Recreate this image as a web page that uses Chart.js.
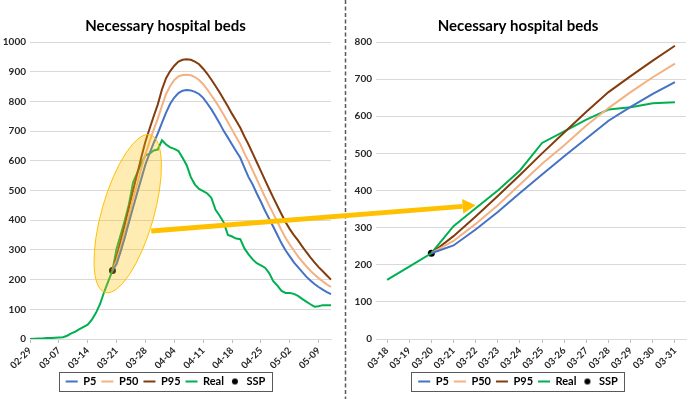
<!DOCTYPE html>
<html>
<head>
<meta charset="utf-8">
<script src="https://cdn.jsdelivr.net/npm/chart.js@4.4.1/dist/chart.umd.min.js"></script>
<style>
    body { margin: 0; background: #fff; }
    #wrap { position: relative; width: 690px; height: 399px; }
    .box { position: absolute; top: 0; height: 399px; }
    #leftBox { left: 0; width: 345px; }
    #rightBox { left: 346px; width: 344px; }
    #overlay { position: absolute; left: 0; top: 0; pointer-events: none; }
</style>
</head>
<body>
<div id="wrap">
    <div class="box" id="leftBox"><canvas id="LeftChart"></canvas></div>
    <div class="box" id="rightBox"><canvas id="RightChart"></canvas></div>
    <canvas id="overlay" width="690" height="399"></canvas>
</div>
<script>
// days 02-29 .. 05-12
const days = [
    "02-29",
    "03-01", "03-02", "03-03", "03-04", "03-05", "03-06", "03-07", "03-08", "03-09", "03-10",
    "03-11", "03-12", "03-13", "03-14", "03-15", "03-16", "03-17", "03-18", "03-19", "03-20",
    "03-21", "03-22", "03-23", "03-24", "03-25", "03-26", "03-27", "03-28", "03-29", "03-30", "03-31",
    "04-01", "04-02", "04-03", "04-04", "04-05", "04-06", "04-07", "04-08", "04-09", "04-10",
    "04-11", "04-12", "04-13", "04-14", "04-15", "04-16", "04-17", "04-18", "04-19", "04-20",
    "04-21", "04-22", "04-23", "04-24", "04-25", "04-26", "04-27", "04-28", "04-29", "04-30",
    "05-01", "05-02", "05-03", "05-04", "05-05", "05-06", "05-07", "05-08", "05-09", "05-10",
    "05-11", "05-12"
];

const real = [
    0, 1, 2, 2, 3, 3, 4, 5, 6, 11,
    19, 25, 33, 41, 48, 65, 88, 118, 159, 195,
    231, 304, 352, 400, 454, 528, 559, 591, 618, 624,
    635, 638, 669, 655, 645, 640, 633, 610, 585, 545,
    520, 505, 498, 490, 475, 435, 415, 392, 350, 345,
    338, 336, 305, 285, 268, 255, 248, 240, 222, 195,
    180, 162, 155, 155, 152, 145, 135, 126, 117, 109,
    110, 114, 114, 114
];

// projections start at the SSP day (03-20)
const p5From = [
    231, 252, 295, 342, 393, 443, 492, 540, 588, 625,
    660, 692, 728, 762, 792, 813, 828, 836, 838, 837,
    832, 825, 812, 793, 773, 750, 726, 700, 678, 655,
    632, 610, 577, 545, 520, 490, 462, 432, 405, 378,
    350, 322, 298, 278, 258, 242, 226, 210, 197, 185,
    175, 166, 158, 151
];
const p50From = [
    231, 264, 310, 360, 416, 472, 522, 575, 622, 665,
    705, 742, 785, 825, 852, 872, 884, 889, 890, 888,
    882, 872, 858, 840, 820, 800, 778, 754, 730, 705,
    680, 656, 625, 598, 568, 538, 508, 478, 450, 422,
    394, 366, 340, 318, 298, 278, 261, 245, 230, 217,
    205, 194, 184, 175
];
const p95From = [
    231, 277, 330, 385, 442, 500, 556, 612, 665, 708,
    750, 790, 840, 878, 902, 920, 934, 940, 942, 940,
    934, 925, 910, 893, 873, 852, 830, 806, 783, 758,
    735, 711, 682, 655, 625, 595, 565, 535, 505, 476,
    448, 420, 393, 370, 350, 332, 312, 293, 275, 258,
    242, 228, 214, 200
];

const sspDay = "03-20";
const sspValue = 231;

const zoomFrom = "03-18";
const zoomTo = "03-31";

const leftTicks = [0, 1000, 100];
const rightTicks = [0, 800, 100];

const titleText = "Necessary hospital beds";

// ellipse + arrow annotations, in data units
const ellipseAt = { index: 23.7, value: 422 };
const arrowFrom = { index: 29.4, value: 364 };
const arrowTo = { index: 4.0, value: 360 };

const colors = {
    p5: "#4472C4",
    p50: "#F4B183",
    p95: "#843C0C",
    real: "#00B050",
    ssp: "#000000",
};

Chart.defaults.font.family = "Lato";
Chart.defaults.color = "#262626";

const lead = days.indexOf(sspDay);
function pad(arr) {
    return new Array(lead).fill(null).concat(arr);
}
const p5 = pad(p5From);
const p50 = pad(p50From);
const p95 = pad(p95From);
const ssp = days.map(d => (d === sspDay ? sspValue : null));

const dotIcon = document.createElement("canvas");
dotIcon.width = 12;
dotIcon.height = 8;
(function () {
    const c = dotIcon.getContext("2d");
    c.fillStyle = colors.ssp;
    c.beginPath();
    c.arc(6, 4, 3, 0, Math.PI * 2);
    c.fill();
})();

function makeDatasets(range) {
    const cut = arr => arr.slice(range[0], range[1] + 1);
    return [
        { label: "P5", data: cut(p5), borderColor: colors.p5, backgroundColor: colors.p5 },
        { label: "P50", data: cut(p50), borderColor: colors.p50, backgroundColor: colors.p50 },
        { label: "P95", data: cut(p95), borderColor: colors.p95, backgroundColor: colors.p95 },
        { label: "Real", data: cut(real), borderColor: colors.real, backgroundColor: colors.real },
        {
            label: "SSP", data: cut(ssp), borderColor: colors.ssp, backgroundColor: colors.ssp,
            showLine: false, pointRadius: 3.5, borderWidth: 0,
        },
    ].map(ds => Object.assign({ borderWidth: 2, pointRadius: 0, tension: 0, spanGaps: false }, ds));
}

const legendFrame = {
    id: "legendFrame",
    afterDraw(chart) {
        const boxes = chart.legend.legendHitBoxes;
        if (!boxes || !boxes.length) return;
        const l = Math.min(...boxes.map(b => b.left)) - 7;
        const r = Math.max(...boxes.map(b => b.left + b.width)) + 6;
        const t = boxes[0].top - 4;
        const b = boxes[0].top + boxes[0].height + 4;
        const ctx = chart.ctx;
        ctx.save();
        ctx.strokeStyle = "#595959";
        ctx.lineWidth = 1;
        ctx.strokeRect(Math.round(l) + 0.5, Math.round(t) + 0.5, Math.round(r - l), Math.round(b - t));
        ctx.restore();
    },
};

const highlight = {
    id: "highlight",
    afterDatasetsDraw(chart) {
        const x = chart.scales.x.getPixelForValue(ellipseAt.index);
        const y = chart.scales.y.getPixelForValue(ellipseAt.value);
        const ctx = chart.ctx;
        ctx.save();
        ctx.beginPath();
        ctx.ellipse(x, y, 82, 26, -74 * Math.PI / 180, 0, Math.PI * 2);
        ctx.fillStyle = "rgba(255, 192, 0, 0.3)";
        ctx.fill();
        ctx.strokeStyle = "#FFC000";
        ctx.lineWidth = 1;
        ctx.stroke();
        ctx.restore();
    },
};

function baseOptions(yTicks, xOpts, padRight) {
    return {
        responsive: true,
        maintainAspectRatio: false,
        animation: false,
        layout: { padding: { left: 0, right: padRight, top: 0, bottom: 2 } },
        plugins: {
            title: {
                display: true,
                text: titleText,
                color: "#000",
                font: { size: 15, weight: "bold" },
                padding: { top: 17, bottom: 7 },
            },
            legend: {
                position: "bottom",
                labels: {
                    usePointStyle: true,
                    pointStyleWidth: 12,
                    boxHeight: 8,
                    padding: 5,
                    color: "#000",
                    font: { size: 11, weight: "bold" },
                    generateLabels: function (chart) {
                        const items = Chart.defaults.plugins.legend.labels.generateLabels(chart);
                        items.forEach(item => {
                            item.pointStyle = item.text === "SSP" ? dotIcon : "line";
                        });
                        return items;
                    },
                },
            },
            tooltip: { enabled: false },
        },
        scales: {
            x: xOpts,
            y: {
                min: yTicks[0],
                max: yTicks[1],
                ticks: {
                    stepSize: yTicks[2],
                    padding: 4,
                    color: "#262626",
                    font: { size: 10, weight: "bold" },
                    callback: v => String(v),
                },
                grid: { color: "#d9d9d9", drawTicks: false },
                border: { display: false },
                afterFit: function (scale) { scale.width = 30; },
            },
        },
    };
}

const xHeight = 32;

const leftCtx = document.getElementById("LeftChart");
const leftChart = new Chart(leftCtx, {
    type: "line",
    data: { labels: days, datasets: makeDatasets([0, days.length - 1]) },
    options: baseOptions(leftTicks, {
        offset: false,
        grid: {
            display: true,
            drawOnChartArea: false,
            drawTicks: true,
            tickLength: 4,
            tickColor: c => (c.index % 7 === 0 ? "#bfbfbf" : "rgba(0,0,0,0)"),
        },
        border: { display: true, color: "#d9d9d9" },
        ticks: {
            autoSkip: false,
            minRotation: 45,
            maxRotation: 45,
            padding: 2,
            color: "#262626",
            font: { size: 9.5, weight: "bold" },
            callback: function (val, i) { return i % 7 === 0 ? this.getLabelForValue(val) : ""; },
        },
        afterFit: function (scale) { scale.height = xHeight; },
    }, 14),
    plugins: [highlight, legendFrame],
});

const r0 = days.indexOf(zoomFrom);
const r1 = days.indexOf(zoomTo);
const rightCtx = document.getElementById("RightChart");
const rightChart = new Chart(rightCtx, {
    type: "line",
    data: { labels: days.slice(r0, r1 + 1), datasets: makeDatasets([r0, r1]) },
    options: baseOptions(rightTicks, {
        offset: true,
        grid: {
            display: true,
            drawOnChartArea: false,
            drawTicks: true,
            tickLength: 4,
            tickColor: "#bfbfbf",
        },
        border: { display: true, color: "#d9d9d9" },
        ticks: {
            autoSkip: false,
            minRotation: 45,
            maxRotation: 45,
            padding: 2,
            color: "#262626",
            font: { size: 9.5, weight: "bold" },
        },
        afterFit: function (scale) { scale.height = xHeight; },
    }, 0),
    plugins: [legendFrame],
});

// separator + arrow across both charts
function drawOverlay() {
    const ov = document.getElementById("overlay");
    const ctx = ov.getContext("2d");
    const rightLeft = document.getElementById("rightBox").offsetLeft;
    ctx.clearRect(0, 0, ov.width, ov.height);

    ctx.save();
    ctx.strokeStyle = "#595959";
    ctx.lineWidth = 1.5;
    ctx.setLineDash([4, 2.5]);
    ctx.beginPath();
    ctx.moveTo(rightLeft - 0.5, 0);
    ctx.lineTo(rightLeft - 0.5, ov.height);
    ctx.stroke();
    ctx.restore();

    const ax = leftChart.scales.x.getPixelForValue(arrowFrom.index);
    const ay = leftChart.scales.y.getPixelForValue(arrowFrom.value);
    const bx = rightLeft + rightChart.scales.x.getPixelForValue(arrowTo.index);
    const by = rightChart.scales.y.getPixelForValue(arrowTo.value);
    const ang = Math.atan2(by - ay, bx - ax);
    const headLen = 13;
    const headHalf = 7.5;
    const baseX = bx - headLen * Math.cos(ang);
    const baseY = by - headLen * Math.sin(ang);

    ctx.save();
    ctx.strokeStyle = "#FFC000";
    ctx.fillStyle = "#FFC000";
    ctx.lineWidth = 5;
    ctx.beginPath();
    ctx.moveTo(ax, ay);
    ctx.lineTo(baseX, baseY);
    ctx.stroke();
    ctx.beginPath();
    ctx.moveTo(bx, by);
    ctx.lineTo(baseX + headHalf * Math.sin(ang), baseY - headHalf * Math.cos(ang));
    ctx.lineTo(baseX - headHalf * Math.sin(ang), baseY + headHalf * Math.cos(ang));
    ctx.closePath();
    ctx.fill();
    ctx.restore();
}
drawOverlay();
</script>
</body>
</html>
